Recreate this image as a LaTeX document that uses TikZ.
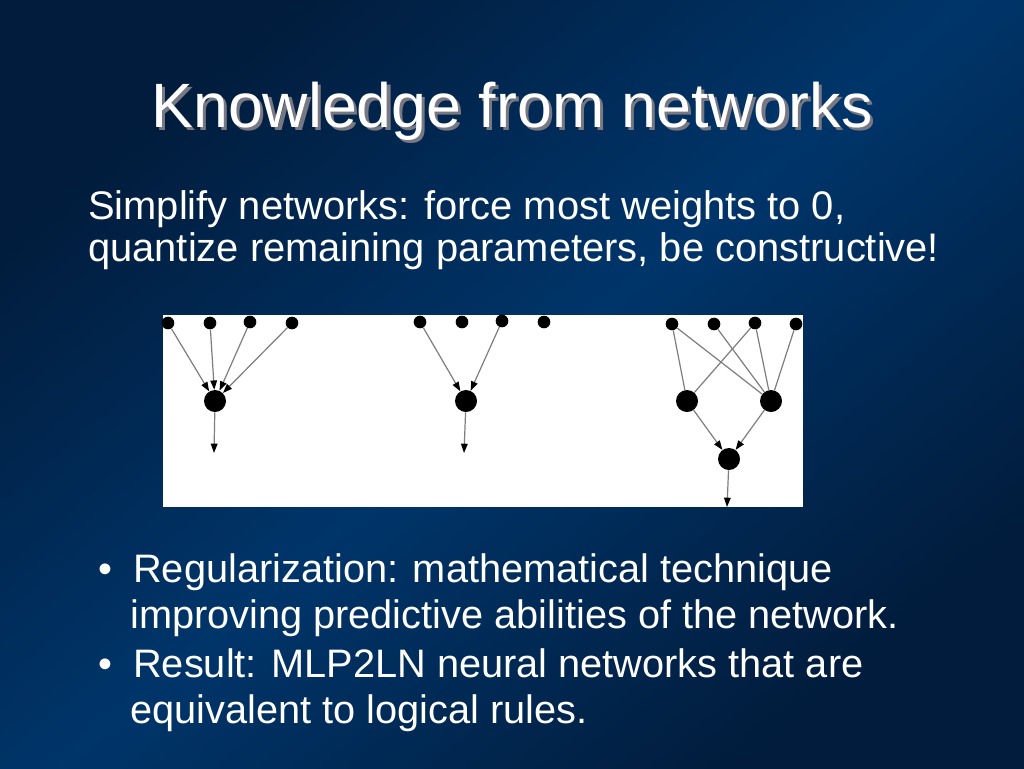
\documentclass[tikz,border=0pt]{standalone}
\usepackage{fontspec}
\setmainfont{Liberation Sans}
\usetikzlibrary{arrows.meta}
\definecolor{bgdark}{RGB}{1,28,60}
\definecolor{bgbright}{RGB}{0,53,106}
\definecolor{edgegray}{RGB}{125,125,125}
\definecolor{shadowgray}{RGB}{120,120,130}
\tikzset{
  inp/.style={circle,fill=black,inner sep=0pt,minimum size=9.5pt},
  hid/.style={circle,fill=black,inner sep=0pt,minimum size=16.5pt},
  wire/.style={draw=edgegray,line width=0.9pt},
  arr/.style={wire,-{Triangle[length=7pt,width=5pt,color=black]}},
  slidetext/.style={text=white,font=\fontsize{29.8}{36}\selectfont,inner sep=0pt},
  subtext/.style={text=white,font=\fontsize{29.9}{36}\selectfont,inner sep=0pt},
  titletext/.style={font=\fontsize{47}{56}\selectfont,inner sep=0pt},
}
\newcommand{\shadowed}[1]{\makebox[0pt][l]{\hspace{2.3pt}\raisebox{-2.3pt}{\textcolor{shadowgray}{#1}}}#1}
\begin{document}
\begin{tikzpicture}[x=0.75pt,y=-0.75pt]
\useasboundingbox (0,0) rectangle (1024,768);
\shade[top color=bgdark,bottom color=bgdark,middle color=bgbright,shading angle=40] (0,0) rectangle (1024,768);
% title
\node[titletext,text=white,anchor=base] (title) at (512,127) {\shadowed{Knowledge from networks}};
% subtitle
\node[subtext,anchor=base west] (sub1) at (88,219) {Simplify networks: force most weights to 0,};
\node[subtext,anchor=base west] (sub2) at (88,261) {quantize remaining parameters, be constructive!};
% white panel
\fill[white] (163,315) rectangle (803,507);
% network 1
\node[inp] (a1) at (168,323) {};
\node[inp] (a2) at (210,323) {};
\node[inp] (a3) at (250,322) {};
\node[inp] (a4) at (292,323) {};
\node[hid] (ah) at (215,401) {};
\coordinate (ao) at (214,453);
\draw[arr] (a1) -- (ah);
\draw[arr] (a2) -- (ah);
\draw[arr] (a3) -- (ah);
\draw[arr] (a4) -- (ah);
\draw[arr] (ah) -- (ao);
% network 2
\node[inp] (b1) at (420,322) {};
\node[inp] (b2) at (462,322) {};
\node[inp] (b3) at (502,321) {};
\node[inp] (b4) at (544,322) {};
\node[hid] (bh) at (466,401) {};
\coordinate (bo) at (464,453);
\draw[arr] (b1) -- (bh);
\draw[arr] (b3) -- (bh);
\draw[arr] (bh) -- (bo);
% network 3
\node[inp] (c1) at (672,324) {};
\node[inp] (c2) at (714,324) {};
\node[inp] (c3) at (755,323) {};
\node[inp] (c4) at (796,324) {};
\node[hid] (ch1) at (687,401) {};
\node[hid] (ch2) at (771,401) {};
\node[hid] (co) at (729,459) {};
\coordinate (cout) at (727,507);
\draw[wire] (c1) -- (ch1);
\draw[wire] (c1) -- (ch2);
\draw[wire] (c2) -- (ch2);
\draw[wire] (c3) -- (ch1);
\draw[wire] (c3) -- (ch2);
\draw[wire] (c4) -- (ch2);
\draw[arr] (ch1) -- (co);
\draw[arr] (ch2) -- (co);
\draw[arr] (co) -- (cout);
% bullets
\node[slidetext,anchor=base west] (bul1) at (98,582) {•};
\node[slidetext,anchor=base west] (l1) at (133,582) {Regularization: mathematical technique};
\node[slidetext,anchor=base west] (l2) at (130,628) {improving predictive abilities of the network.};
\node[slidetext,anchor=base west] (bul2) at (98,677) {•};
\node[slidetext,anchor=base west] (l3) at (133,677) {Result: MLP2LN neural networks that are};
\node[slidetext,anchor=base west] (l4) at (130,723) {equivalent to logical rules.};
\end{tikzpicture}
\end{document}
